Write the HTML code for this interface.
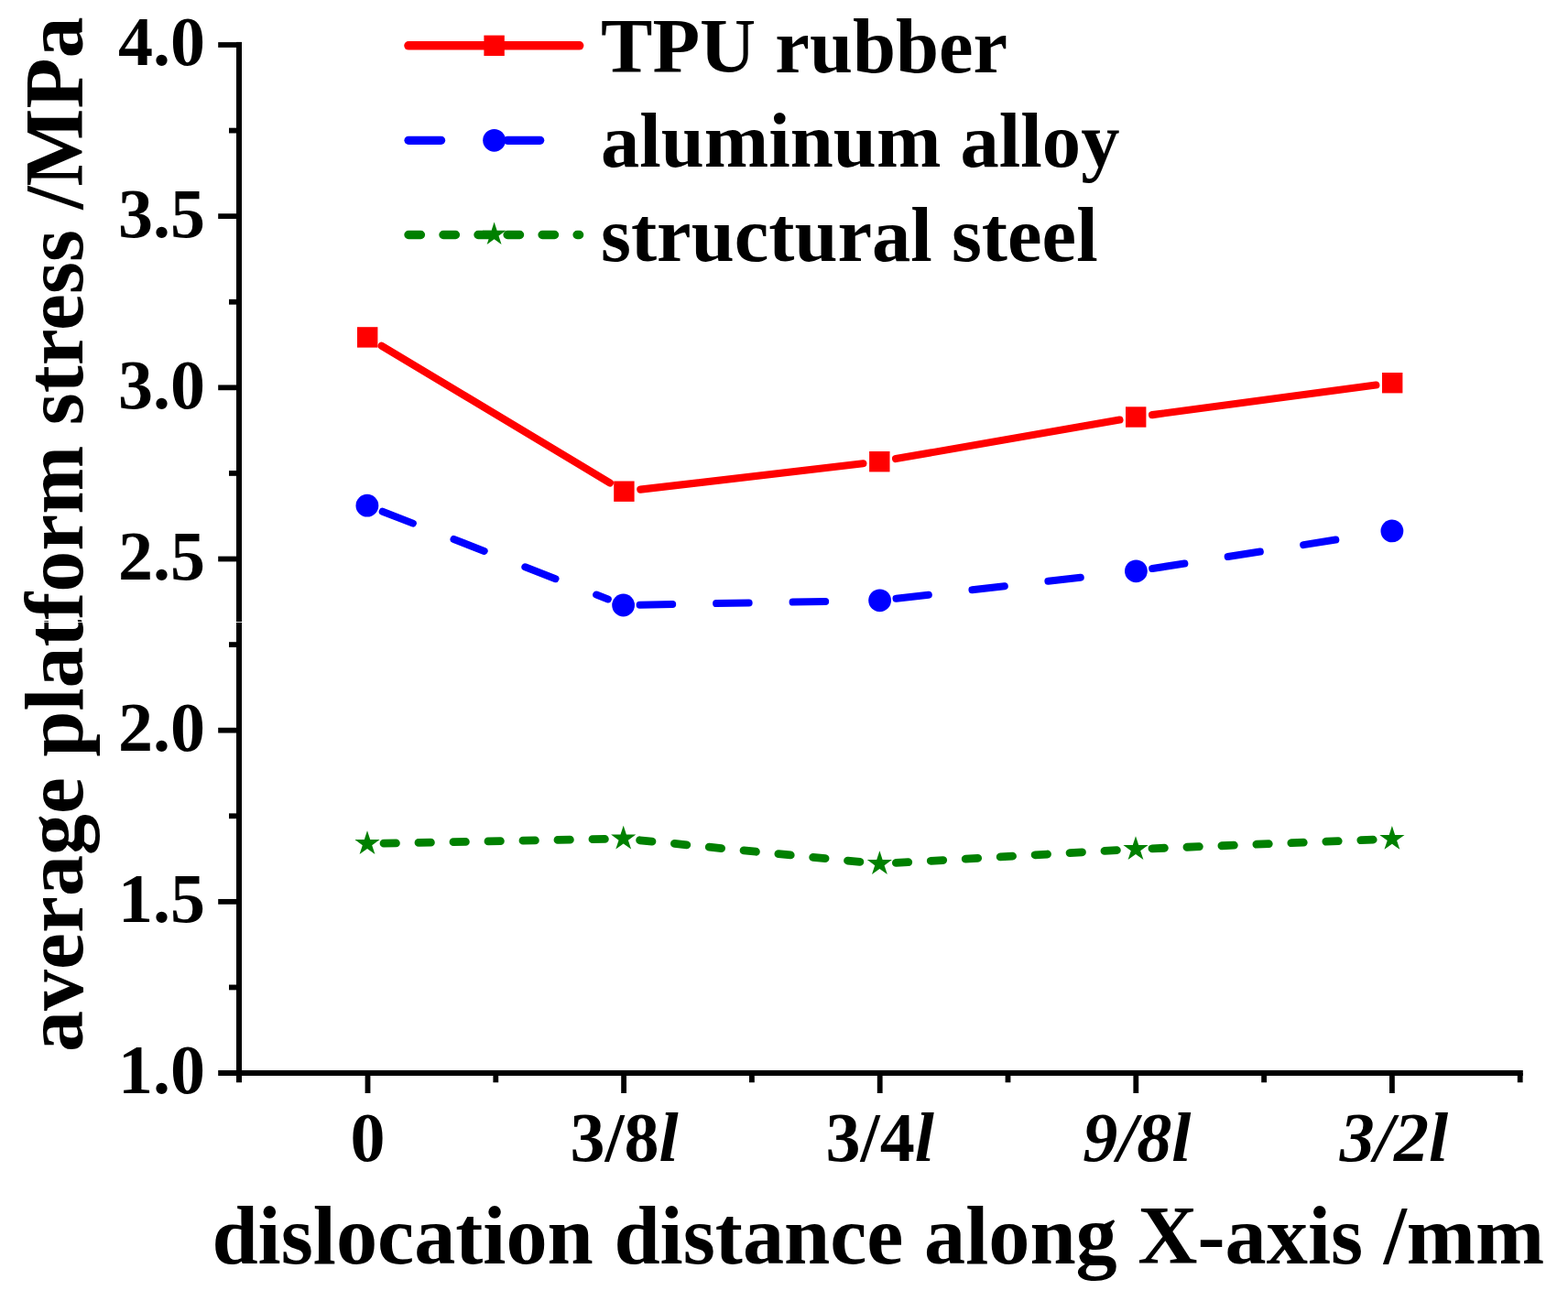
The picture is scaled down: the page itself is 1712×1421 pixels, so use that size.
<!DOCTYPE html>
<html lang="en"><head><meta charset="utf-8"><title>average platform stress vs dislocation distance</title>
<style>html,body{margin:0;padding:0;background:#fff;}body{width:1712px;height:1421px;overflow:hidden;}svg{display:block;}text{font-family:"Liberation Serif","DejaVu Serif",serif;font-weight:bold;fill:#000;}.tk{font-size:76px;}.tt{font-size:90.3px;}.ty{font-size:90px;}.lg{font-size:84.6px;}.it{font-style:italic;}</style></head><body>
<svg width="1712" height="1421" viewBox="0 0 1712 1421">
<rect width="1712" height="1421" fill="#fff"/>
<g fill="#000">
<rect x="258.00" y="45.90" width="6.00" height="1136.40"/>
<rect x="238.20" y="1169.00" width="1424.60" height="6.00"/>
<rect x="238.20" y="46.10" width="20.80" height="5.80"/>
<rect x="250.00" y="139.68" width="9.00" height="5.80"/>
<rect x="238.20" y="233.27" width="20.80" height="5.80"/>
<rect x="250.00" y="326.86" width="9.00" height="5.80"/>
<rect x="238.20" y="420.44" width="20.80" height="5.80"/>
<rect x="250.00" y="514.02" width="9.00" height="5.80"/>
<rect x="238.20" y="607.61" width="20.80" height="5.80"/>
<rect x="250.00" y="701.20" width="9.00" height="5.80"/>
<rect x="238.20" y="794.78" width="20.80" height="5.80"/>
<rect x="250.00" y="888.37" width="9.00" height="5.80"/>
<rect x="238.20" y="981.95" width="20.80" height="5.80"/>
<rect x="250.00" y="1075.53" width="9.00" height="5.80"/>
<rect x="398.60" y="1172.00" width="5.80" height="22.00"/>
<rect x="538.40" y="1172.00" width="5.80" height="10.30"/>
<rect x="678.20" y="1172.00" width="5.80" height="22.00"/>
<rect x="818.00" y="1172.00" width="5.80" height="10.30"/>
<rect x="957.80" y="1172.00" width="5.80" height="22.00"/>
<rect x="1097.60" y="1172.00" width="5.80" height="10.30"/>
<rect x="1237.40" y="1172.00" width="5.80" height="22.00"/>
<rect x="1377.20" y="1172.00" width="5.80" height="10.30"/>
<rect x="1517.00" y="1172.00" width="5.80" height="22.00"/>
<rect x="1656.80" y="1172.00" width="5.80" height="10.30"/>
</g>
<g class="tk" text-anchor="end">
<text x="224.0" y="71.3">4.0</text>
<text x="224.0" y="258.5">3.5</text>
<text x="224.0" y="445.6">3.0</text>
<text x="224.0" y="632.8">2.5</text>
<text x="224.0" y="820.0">2.0</text>
<text x="224.0" y="1007.1">1.5</text>
<text x="224.0" y="1194.3">1.0</text>
</g>
<g class="tk" text-anchor="middle">
<text x="401.5" y="1268.0">0</text>
<text x="681.6" y="1268.0">3/8<tspan class="it">l</tspan></text>
<text x="960.7" y="1268.0">3/4<tspan class="it">l</tspan></text>
<text x="1241.3" y="1268.0"><tspan class="it">9/8l</tspan></text>
<text x="1521.9" y="1268.0"><tspan class="it">3/2l</tspan></text>
</g>
<text class="tt" x="231.4" y="1380">dislocation distance along X-axis /mm</text>
<text class="ty" transform="translate(89.7 1149) rotate(-90)">average platform stress /MPa</text>
<g fill="none">
<line x1="416.63" y1="377.67" x2="665.97" y2="527.43" stroke="#ff0000" stroke-width="8.10" stroke-linecap="round"/>
<line x1="417.68" y1="558.73" x2="663.82" y2="654.47" stroke="#0000ff" stroke-width="8.00" stroke-linecap="round" stroke-dasharray="35.6 47.9"/>
<line x1="419.00" y1="921.15" x2="662.70" y2="916.35" stroke="#008000" stroke-width="8.80" stroke-linecap="round" stroke-dasharray="13.4 24.6"/>
<line x1="699.28" y1="534.62" x2="942.42" y2="506.28" stroke="#ff0000" stroke-width="8.10" stroke-linecap="round"/>
<line x1="698.60" y1="660.67" x2="942.60" y2="656.13" stroke="#0000ff" stroke-width="8.00" stroke-linecap="round" stroke-dasharray="35.6 47.9"/>
<line x1="698.61" y1="917.76" x2="942.49" y2="941.74" stroke="#008000" stroke-width="8.80" stroke-linecap="round" stroke-dasharray="13.4 24.6"/>
<line x1="978.03" y1="501.11" x2="1222.47" y2="458.59" stroke="#ff0000" stroke-width="8.10" stroke-linecap="round"/>
<line x1="978.48" y1="653.75" x2="1222.52" y2="625.85" stroke="#0000ff" stroke-width="8.00" stroke-linecap="round" stroke-dasharray="35.6 47.9"/>
<line x1="978.37" y1="942.47" x2="1222.03" y2="928.53" stroke="#008000" stroke-width="8.80" stroke-linecap="round" stroke-dasharray="13.4 24.6"/>
<line x1="1258.04" y1="453.12" x2="1502.36" y2="420.58" stroke="#ff0000" stroke-width="8.10" stroke-linecap="round"/>
<line x1="1258.18" y1="621.01" x2="1502.12" y2="582.69" stroke="#0000ff" stroke-width="8.00" stroke-linecap="round" stroke-dasharray="35.6 47.9"/>
<line x1="1257.99" y1="926.78" x2="1501.91" y2="917.02" stroke="#008000" stroke-width="8.80" stroke-linecap="round" stroke-dasharray="13.4 24.6"/>
</g>
<rect x="390.00" y="357.20" width="22.40" height="22.40" fill="#ff0000"/>
<rect x="670.20" y="525.50" width="22.40" height="22.40" fill="#ff0000"/>
<rect x="949.10" y="493.00" width="22.40" height="22.40" fill="#ff0000"/>
<rect x="1229.00" y="444.30" width="22.40" height="22.40" fill="#ff0000"/>
<rect x="1509.00" y="407.00" width="22.40" height="22.40" fill="#ff0000"/>
<circle cx="400.90" cy="552.20" r="12.40" fill="#0000ff"/>
<circle cx="680.60" cy="661.00" r="12.40" fill="#0000ff"/>
<circle cx="960.60" cy="655.80" r="12.40" fill="#0000ff"/>
<circle cx="1240.40" cy="623.80" r="12.40" fill="#0000ff"/>
<circle cx="1519.90" cy="579.90" r="12.40" fill="#0000ff"/>
<polygon points="401.00,907.20 404.21,917.08 414.60,917.08 406.20,923.19 409.41,933.07 401.00,926.96 392.59,933.07 395.80,923.19 387.40,917.08 397.79,917.08" fill="#008000"/>
<polygon points="680.70,901.70 683.91,911.58 694.30,911.58 685.90,917.69 689.11,927.57 680.70,921.46 672.29,927.57 675.50,917.69 667.10,911.58 677.49,911.58" fill="#008000"/>
<polygon points="960.40,929.20 963.61,939.08 974.00,939.08 965.60,945.19 968.81,955.07 960.40,948.96 951.99,955.07 955.20,945.19 946.80,939.08 957.19,939.08" fill="#008000"/>
<polygon points="1240.00,913.20 1243.21,923.08 1253.60,923.08 1245.20,929.19 1248.41,939.07 1240.00,932.96 1231.59,939.07 1234.80,929.19 1226.40,923.08 1236.79,923.08" fill="#008000"/>
<polygon points="1519.90,902.00 1523.11,911.88 1533.50,911.88 1525.10,917.99 1528.31,927.87 1519.90,921.76 1511.49,927.87 1514.70,917.99 1506.30,911.88 1516.69,911.88" fill="#008000"/>
<g fill="none" stroke-linecap="round">
<line x1="446.00" y1="49.80" x2="632.60" y2="49.80" stroke="#ff0000" stroke-width="9.60"/>
<line x1="446.00" y1="153.30" x2="521.60" y2="153.30" stroke="#0000ff" stroke-width="9.20" stroke-dasharray="35.6 47.9"/>
<line x1="554.10" y1="153.30" x2="632.60" y2="153.30" stroke="#0000ff" stroke-width="9.20" stroke-dasharray="35.6 47.9"/>
<line x1="446.00" y1="256.50" x2="535.60" y2="256.50" stroke="#008000" stroke-width="9.40" stroke-dasharray="13.4 24.6"/>
<line x1="554.10" y1="256.50" x2="632.60" y2="256.50" stroke="#008000" stroke-width="9.40" stroke-dasharray="13.4 24.6"/>
</g>
<rect x="528.40" y="38.60" width="22.40" height="22.40" fill="#ff0000"/>
<circle cx="539.60" cy="153.30" r="12.40" fill="#0000ff"/>
<polygon points="539.60,242.50 542.63,251.83 552.44,251.83 544.50,257.59 547.54,266.92 539.60,261.16 531.66,266.92 534.70,257.59 526.76,251.83 536.57,251.83" fill="#008000"/>
<g class="lg">
<text x="656" y="78.6">TPU rubber</text>
<text x="656" y="181.5">aluminum alloy</text>
<text x="656" y="285">structural steel</text>
</g>
<rect x="0" y="679" width="266" height="1" fill="#fff" opacity="0.85"/>
</svg></body></html>
